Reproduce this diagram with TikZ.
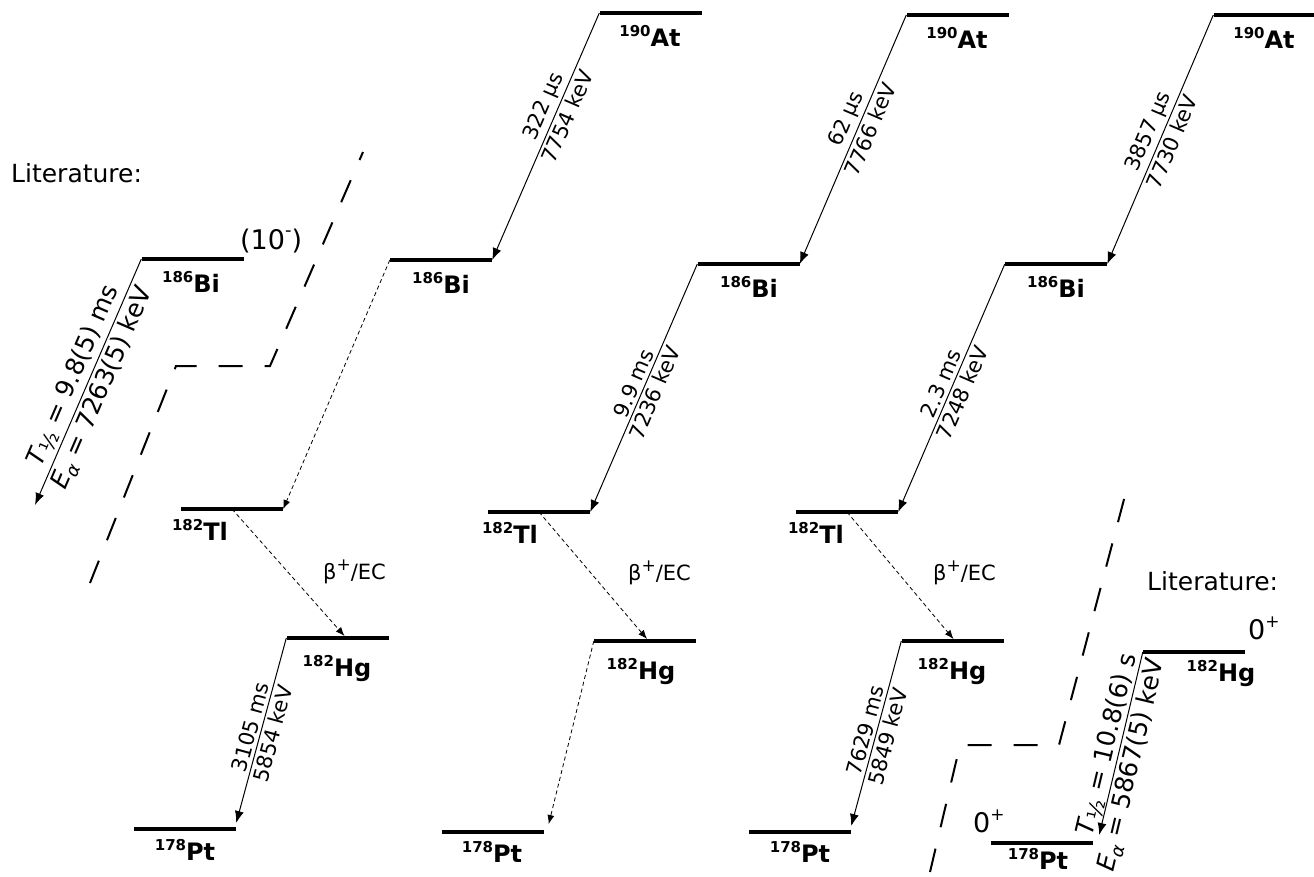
\documentclass[tikz,border=0pt]{standalone}
\usepackage{fontspec}
\setmainfont{DejaVu Sans}
\usetikzlibrary{arrows.meta}
\newcommand{\isolab}[2]{\textbf{\raisebox{0.40em}{\fontsize{15}{15}\selectfont #1}#2}}
\newcommand{\supplus}{\raisebox{0.42em}{\fontsize{17}{17}\selectfont +}}
\newcommand{\thalf}{\textit{T}\raisebox{-0.2em}{\fontsize{21}{21}\selectfont ½}}
\newcommand{\ealpha}{\textit{E}\raisebox{-0.22em}{\fontsize{18}{18}\selectfont\itshape α}}
\begin{document}
\begin{tikzpicture}[x=1pt,y=-1pt,
  lvl/.style={fill=black, draw=none, inner sep=0pt, minimum width=102pt, minimum height=3.2pt},
  iso/.style={anchor=base, inner sep=0pt, font=\fontsize{24}{24}\selectfont},
  alphaarr/.style={line width=1pt, -{Latex[length=12pt,width=9pt]}},
  dotarr/.style={line width=0.8pt, dash pattern=on 4pt off 3pt, -{Latex[length=9pt,width=7pt]}},
  lab/.style={font=\fontsize{21}{21}\selectfont, sloped, inner sep=3pt},
  litlab/.style={font=\fontsize{25}{25}\selectfont, sloped, inner sep=3pt},
  txt/.style={anchor=base west, inner sep=0pt, font=\fontsize{25}{25}\selectfont},
  spin/.style={anchor=base west, inner sep=0pt, font=\fontsize{27}{27}\selectfont},
  beta/.style={anchor=base west, inner sep=0pt, font=\fontsize{21}{21}\selectfont},
  zline/.style={line width=2pt, dash pattern=on 24pt off 22pt}
]
\useasboundingbox (0,0) rectangle (1314,876);

% ---------- levels ----------
\node[lvl] (at1) at (650.5,13) {};
\node[lvl] (bi1) at (441,260) {};
\node[lvl] (tl1) at (232,509) {};
\node[lvl] (hg1) at (337.5,638) {};
\node[lvl] (pt1) at (185,829) {};

\node[lvl] (at2) at (957.5,15) {};
\node[lvl] (bi2) at (748.5,264) {};
\node[lvl] (tl2) at (539,512) {};
\node[lvl] (hg2) at (645,641) {};
\node[lvl] (pt2) at (492.5,832) {};

\node[lvl] (at3) at (1264.5,15) {};
\node[lvl] (bi3) at (1056,264) {};
\node[lvl] (tl3) at (847,512) {};
\node[lvl] (hg3) at (952.5,641) {};
\node[lvl] (pt3) at (800,832) {};

\node[lvl] (bil) at (192.5,259) {};
\node[lvl] (hgl) at (1194,652) {};
\node[lvl] (ptl) at (1042,843) {};

% ---------- isotope labels ----------
\node[iso] (at1t) at (650,46) {\isolab{190}{At}};
\node[iso] (bi1t) at (441,293) {\isolab{186}{Bi}};
\node[iso] (tl1t) at (200,540) {\isolab{182}{Tl}};
\node[iso] (hg1t) at (337,676) {\isolab{182}{Hg}};
\node[iso] (pt1t) at (185,860) {\isolab{178}{Pt}};

\node[iso] (at2t) at (957,48) {\isolab{190}{At}};
\node[iso] (bi2t) at (749,297) {\isolab{186}{Bi}};
\node[iso] (tl2t) at (510,543) {\isolab{182}{Tl}};
\node[iso] (hg2t) at (641,679) {\isolab{182}{Hg}};
\node[iso] (pt2t) at (492,862) {\isolab{178}{Pt}};

\node[iso] (at3t) at (1264,48) {\isolab{190}{At}};
\node[iso] (bi3t) at (1056,297) {\isolab{186}{Bi}};
\node[iso] (tl3t) at (816,543) {\isolab{182}{Tl}};
\node[iso] (hg3t) at (952,679) {\isolab{182}{Hg}};
\node[iso] (pt3t) at (800,862) {\isolab{178}{Pt}};

\node[iso] (bilt) at (191,292) {\isolab{186}{Bi}};
\node[iso] (hglt) at (1221,681) {\isolab{182}{Hg}};
\node[iso] (ptlt) at (1038,869) {\isolab{178}{Pt}};

% ---------- column 1 ----------
\draw[alphaarr] (at1.west) -- (bi1.east)
  node[lab, pos=0.4, above] (l1a) {322 μs}
  node[lab, pos=0.4, below] (l1b) {7754 keV};
\draw[dotarr] (bi1.west) -- (tl1.east);
\draw[dotarr] (tl1.center) -- ([xshift=7pt,yshift=2pt]hg1.center);
\draw[alphaarr] (hg1.west) -- ([yshift=6pt]pt1.east)
  node[lab, midway, above] (l1c) {3105 ms}
  node[lab, midway, below] (l1d) {5854 keV};
\node[beta] (b1) at (323,579) {β\supplus/EC};

% ---------- column 2 ----------
\draw[alphaarr] (at2.west) -- (bi2.east)
  node[lab, pos=0.44, above] (l2a) {62 μs}
  node[lab, pos=0.44, below] (l2b) {7766 keV};
\draw[alphaarr] (bi2.west) -- (tl2.east)
  node[lab, midway, above] (l2c) {9.9 ms}
  node[lab, midway, below] (l2d) {7236 keV};
\draw[dotarr] (tl2.center) -- ([xshift=2pt,yshift=2pt]hg2.center);
\draw[dotarr] (hg2.west) -- ([yshift=8pt,xshift=5pt]pt2.east);
\node[beta] (b2) at (628,580) {β\supplus/EC};

% ---------- column 3 ----------
\draw[alphaarr] (at3.west) -- (bi3.east)
  node[lab, pos=0.49, above] (l3a) {3857 μs}
  node[lab, pos=0.49, below] (l3b) {7730 keV};
\draw[alphaarr] (bi3.west) -- (tl3.east)
  node[lab, midway, above] (l3c) {2.3 ms}
  node[lab, midway, below] (l3d) {7248 keV};
\draw[dotarr] (tl3.center) -- ([xshift=1pt,yshift=2pt]hg3.center);
\draw[alphaarr] (hg3.west) -- ([yshift=6pt]pt3.east)
  node[lab, midway, above] (l3e) {7629 ms}
  node[lab, midway, below] (l3f) {5849 keV};
\node[beta] (b3) at (933,580) {β\supplus/EC};

% ---------- literature left ----------
\node[txt] (litL) at (11,182) {Literature:};
\node[spin] (spinBi) at (240,249) {(10\raisebox{0.45em}{\fontsize{18}{18}\selectfont -})};
\coordinate (litLend) at (35,505);
\draw[alphaarr] (bil.west) -- (litLend)
  node[litlab, midway, above] (lla) {\thalf{} = 9.8(5) ms}
  node[litlab, midway, below] (llb) {\ealpha{} = 7263(5) keV};
\draw[zline] (90,583) -- (176,366) -- (270,366) -- (363,152);

% ---------- literature right ----------
\node[txt] (litR) at (1147,590) {Literature:};
\node[spin] (spinHg) at (1248,639) {0\supplus};
\node[spin] (spinPt) at (973,832) {0\supplus};
\draw[alphaarr] (hgl.west) -- ([yshift=8pt,xshift=6pt]ptl.east)
  node[litlab, pos=0.52, above, inner sep=0pt] (lra) {\thalf{} = 10.8(6) s}
  node[litlab, pos=0.6, below] (lrb) {\ealpha{} = 5867(5) keV};
\draw[zline] (930,872) -- (960,745) -- (1059,745) -- (1127,488);
\end{tikzpicture}
\end{document}
